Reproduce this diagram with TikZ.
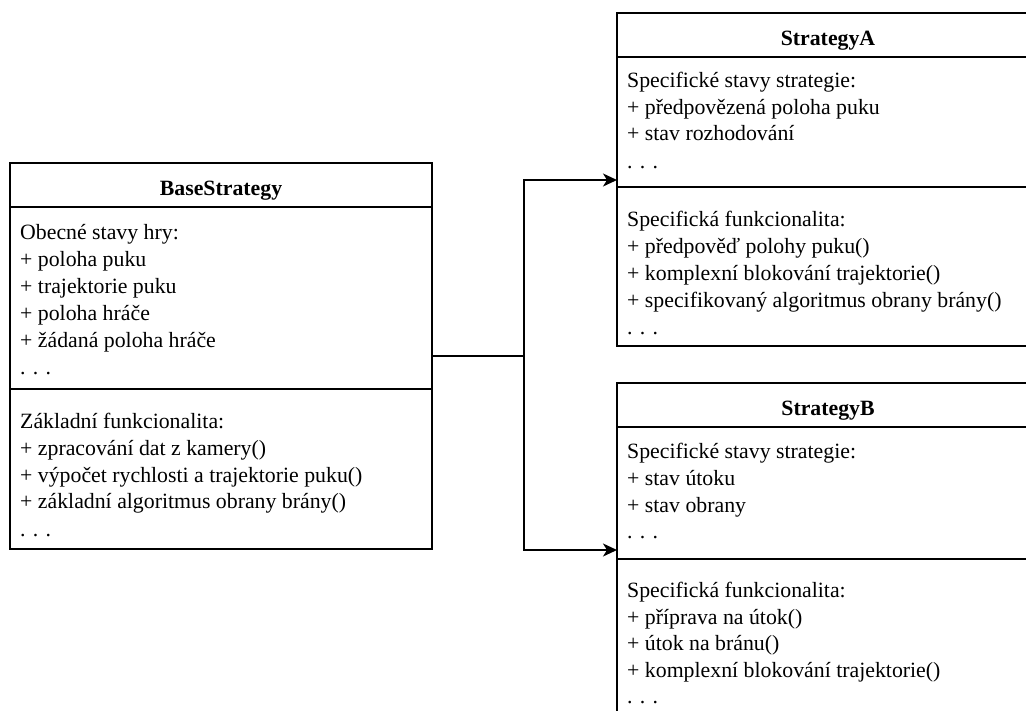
\documentclass[tikz,border=0pt]{standalone}
\usepackage{fontspec}
\setmainfont{Liberation Serif}
\usetikzlibrary{arrows.meta}
\begin{document}
\begin{tikzpicture}[x=1pt,y=-1pt,
  umlbox/.style={draw, line width=1.7pt, inner sep=0pt, outer sep=0pt, minimum width=422pt, anchor=north west},
  sepline/.style={line width=1.7pt},
  txt/.style={anchor=base west, inner sep=0pt, font=\fontsize{21.8}{26}\selectfont},
  hdr/.style={anchor=base, inner sep=0pt, font=\fontsize{21.8}{26}\selectfont\bfseries},
  conn/.style={line width=1.7pt, -{Stealth[length=14pt,width=13pt,inset=4pt]}}]
\useasboundingbox (0,0) rectangle (1026,710);
\begin{scope}
\clip (0,0) rectangle (1026,710);
% boxes
\node[umlbox, minimum height=386pt] (base) at (10,163) {};
\node[umlbox, minimum height=333pt] (sa) at (617,13) {};
\node[umlbox, minimum height=370pt] (sb) at (617,383) {};
% separators
\draw[sepline] ([yshift=-44pt]base.north west) -- ([yshift=-44pt]base.north east);
\draw[sepline] ([yshift=-226pt]base.north west) -- ([yshift=-226pt]base.north east);
\draw[sepline] ([yshift=-44pt]sa.north west) -- ([yshift=-44pt]sa.north east);
\draw[sepline] ([yshift=-174pt]sa.north west) -- ([yshift=-174pt]sa.north east);
\draw[sepline] ([yshift=-44pt]sb.north west) -- ([yshift=-44pt]sb.north east);
\draw[sepline] ([yshift=-176pt]sb.north west) -- ([yshift=-176pt]sb.north east);
% headers
\node[hdr] (baseh) at (221,195) {BaseStrategy};
\node[hdr] (sah) at (828,45) {StrategyA};
\node[hdr] (sbh) at (828,415) {StrategyB};
% BaseStrategy text
\node[txt] (b1) at (20,239) {Obecné stavy hry:};
\node[txt] (b2) at (20,266) {+ poloha puku};
\node[txt] (b3) at (20,293) {+ trajektorie puku};
\node[txt] (b4) at (20,320) {+ poloha hráče};
\node[txt] (b5) at (20,347) {+ žádaná poloha hráče};
\node[txt] (b6) at (20,374) {. . .};
\node[txt] (b7) at (20,428) {Základní funkcionalita:};
\node[txt] (b8) at (20,455) {+ zpracování dat z kamery()};
\node[txt] (b9) at (20,482) {+ výpočet rychlosti a trajektorie puku()};
\node[txt] (b10) at (20,508) {+ základní algoritmus obrany brány()};
\node[txt] (b11) at (20,536) {. . .};
% StrategyA text
\node[txt] (a1) at (627,87) {Specifické stavy strategie:};
\node[txt] (a2) at (627,114) {+ předpovězená poloha puku};
\node[txt] (a3) at (627,140.5) {+ stav rozhodování};
\node[txt] (a4) at (627,168) {. . .};
\node[txt] (a5) at (627,226.5) {Specifická funkcionalita:};
\node[txt] (a6) at (627,253) {+ předpověď polohy puku()};
\node[txt] (a7) at (627,280) {+ komplexní blokování trajektorie()};
\node[txt] (a8) at (627,307) {+ specifikovaný algoritmus obrany brány()};
\node[txt] (a9) at (627,334) {. . .};
% StrategyB text
\node[txt] (c1) at (627,458) {Specifické stavy strategie:};
\node[txt] (c2) at (627,485) {+ stav útoku};
\node[txt] (c3) at (627,512) {+ stav obrany};
\node[txt] (c4) at (627,538.5) {. . .};
\node[txt] (c5) at (627,597) {Specifická funkcionalita:};
\node[txt] (c6) at (627,624) {+ příprava na útok()};
\node[txt] (c7) at (627,650.5) {+ útok na bránu()};
\node[txt] (c8) at (627,677) {+ komplexní blokování trajektorie()};
\node[txt] (c9) at (627,703.5) {. . .};
% connectors
\coordinate (j) at (524,356);
\coordinate (ain) at (617,180);
\coordinate (bin) at (617,550);
\draw[sepline] (base.east) -- (j);
\draw[conn] (j) |- (ain);
\draw[conn] (j) |- (bin);
\end{scope}
\end{tikzpicture}
\end{document}
